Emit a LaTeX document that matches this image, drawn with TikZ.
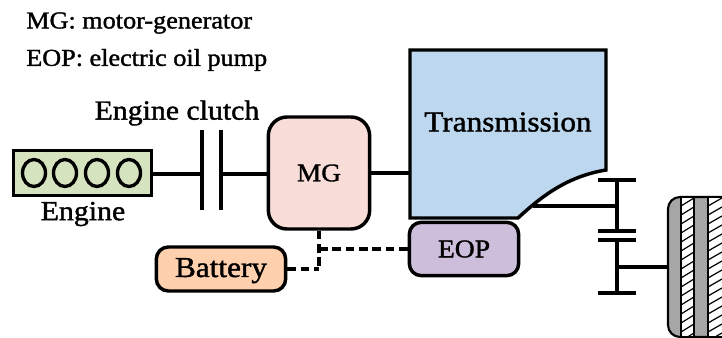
\documentclass[tikz,border=0pt]{standalone}
\usepackage{fontspec}
\setmainfont[FakeBold=1.4,FakeStretch=1.08]{Liberation Serif}
\usepackage{tikz}
\definecolor{enginefill}{HTML}{D5E3BF}
\definecolor{mgfill}{HTML}{F8DDD9}
\definecolor{batteryfill}{HTML}{FFD0AE}
\definecolor{eopfill}{HTML}{CDBEDB}
\definecolor{transfill}{HTML}{BDD7EE}
\definecolor{wheelfill}{HTML}{A6A6A6}
\tikzset{
  unitbox/.style={draw,line width=2.6pt,rounded corners=9pt,inner sep=0pt},
  shaft/.style={line width=2.5pt},
  wire/.style={line width=2.6pt,dash pattern=on 6.5pt off 3.5pt},
  nametext/.style={font=\fontsize{20.7}{24}\selectfont},
  notetext/.style={font=\fontsize{18.2}{22}\selectfont}
}

\begin{document}
\begin{tikzpicture}[x=0.75pt,y=-0.75pt]
\useasboundingbox (0,0) rectangle (722,338);
\node[notetext,anchor=west,inner sep=0pt] (mgnote) at (26,23) {MG: motor-generator};
\node[notetext,anchor=west,inner sep=0pt] (eopnote) at (26,60) {EOP: electric oil pump};
% engine
\node[draw,line width=2.7pt,fill=enginefill,minimum width=103.5pt,minimum height=33.5pt] (engine) at (82.5,173) {};
\draw[line width=2.5pt] (34,173) ellipse (11.5 and 13.5);
\draw[line width=2.5pt] (65,173) ellipse (11.5 and 13.5);
\draw[line width=2.5pt] (97,173) ellipse (11.5 and 13.5);
\draw[line width=2.5pt] (129,173) ellipse (11.5 and 13.5);
\node[nametext] (enginetext) at (83,214) {Engine};
% clutch
\coordinate (clutcha) at (202,174);
\coordinate (clutchb) at (221,174);
\draw[shaft] (202,130) -- (clutcha) -- (202,210);
\draw[shaft] (221,130) -- (clutchb) -- (221,210);
\node[nametext] (clutchtext) at (177,113) {Engine clutch};
% units
\node[unitbox,fill=mgfill,minimum width=76pt,minimum height=84pt,rounded corners=14pt,font=\fontsize{19}{23}\selectfont] (mg) at (319,173) {MG};
\node[unitbox,fill=batteryfill,minimum width=97pt,minimum height=33pt,font=\fontsize{21.7}{26}\selectfont,text height=14pt,text depth=2pt] (battery) at (221,269) {Battery};
\node[unitbox,fill=eopfill,minimum width=82pt,minimum height=40pt,font=\fontsize{19.2}{23}\selectfont] (eop) at (464,249) {EOP};
% transmission
\draw[line width=2.6pt,fill=transfill] (410,50) -- (606,50) -- (606,170)
  .. controls (570,176) and (545,193) .. (518,218) -- (410,218) -- cycle;
\node[font=\fontsize{21.7}{26}\selectfont] (trans) at (508,122) {Transmission};
\coordinate (transin) at (410,173);
\coordinate (transout) at (533,206);
% shafts
\draw[shaft] (engine.east |- clutcha) -- (clutcha);
\draw[shaft] (clutchb) -- (mg.west |- clutchb);
\draw[shaft] (mg.east |- transin) -- (transin);
% gears
\coordinate (geara) at (617,206);
\coordinate (gearb) at (617,267);
\draw[shaft] (598,180) -- (636,180);
\draw[shaft] (598,231) -- (636,231);
\draw[shaft] (598,240) -- (636,240);
\draw[shaft] (598,293) -- (636,293);
\draw[shaft] (617,180) -- (geara) -- (617,231);
\draw[shaft] (617,240) -- (gearb) -- (617,293);
\draw[shaft] (transout) -- (geara);
% wheel
\begin{scope}
\clip (0,0) rectangle (722,338);
\draw[line width=1.6pt,fill=wheelfill,rounded corners=9pt] (668,197) rectangle (740,337);
\fill[white] (681,198) rectangle (694,336);
\fill[white] (708,198) rectangle (722,336);
\begin{scope}
\clip (681,198) rectangle (694,336);
\foreach \hatchy in {197,206,...,350} \draw[line width=0.9pt] (681,\hatchy) -- (694,\hatchy-8);
\end{scope}
\begin{scope}
\clip (708,198) rectangle (722,336);
\foreach \hatchy in {197,206,...,350} \draw[line width=0.9pt] (708,\hatchy) -- (722,\hatchy-8);
\end{scope}
\draw[line width=1.4pt] (681,197) -- (681,337);
\draw[line width=1.4pt] (694,197) -- (694,337);
\draw[line width=1.4pt] (708,197) -- (708,337);
\end{scope}
\coordinate (wheelhub) at (668,267);
\draw[shaft] (gearb) -- (wheelhub);
% electric lines
\coordinate (wirea) at (319,249);
\coordinate (wireb) at (319,269);
\draw[wire] (mg.south) -- (wireb);
\draw[wire] (wirea) -- (eop.west);
\draw[wire] (battery.east) -- (wireb);
\end{tikzpicture}
\end{document}
